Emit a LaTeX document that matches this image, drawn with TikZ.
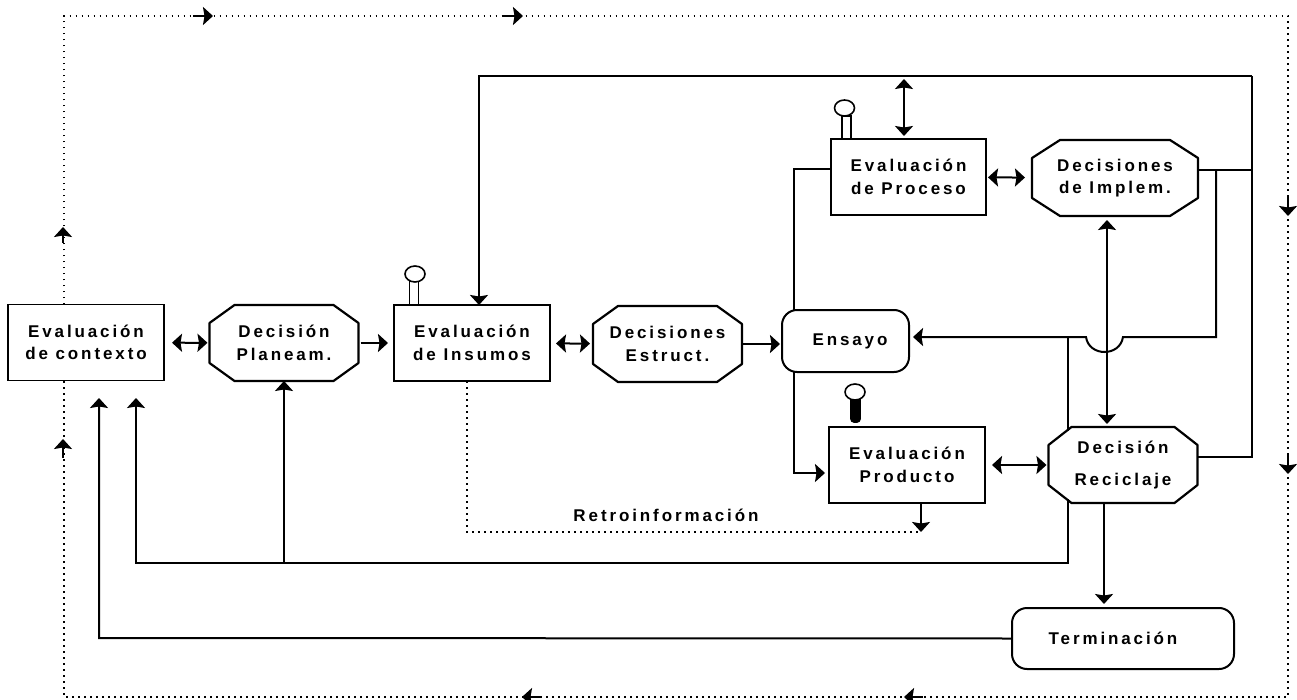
\documentclass[tikz,border=0pt]{standalone}
\usepackage{fontspec}
\setmainfont{Liberation Sans}[LetterSpace=17]
\usetikzlibrary{positioning,arrows.meta,shapes.geometric}

\begin{document}
\begin{tikzpicture}[x=1pt,y=-1pt]
            \tikzset{
                label/.style={font=\fontsize{17}{22.5}\selectfont\bfseries,align=center,inner sep=0pt,outer sep=0pt},
                evalbox/.style={label,draw,line width=1.8pt,fill=white,minimum width=156pt,minimum height=76pt},
                decbox/.style={label,minimum width=149pt,minimum height=76pt},
                octline/.style={line width=2.2pt,line join=round},
                roundbox/.style={label,draw,line width=2pt,fill=white,rounded corners=15pt},
                line/.style={line width=2pt},
                tip/.style={line width=2pt,-{Stealth[length=10pt,width=18pt,inset=1.5pt]}},
                twotip/.style={line width=2pt,{Stealth[length=10pt,width=18pt,inset=1.5pt]}-{Stealth[length=10pt,width=18pt,inset=1.5pt]}},
                flow/.style={line width=1.4pt,dash pattern=on 1.6pt off 4.4pt},
                pinhead/.style={draw,line width=1.6pt,fill=white,ellipse,minimum width=20pt,minimum height=16pt,inner sep=0pt},
                pinstem/.style={draw,line width=1.6pt,fill=white,minimum width=9pt,minimum height=23pt,inner sep=0pt},
            }
            \def\octa#1#2{\draw [octline] ([xshift=#2]#1.north west) -- ([xshift=-#2]#1.north east) -- ([yshift=-18pt]#1.north east) -- ([yshift=18pt]#1.south east) -- ([xshift=-#2]#1.south east) -- ([xshift=#2]#1.south west) -- ([yshift=18pt]#1.south west) -- ([yshift=-18pt]#1.north west) -- cycle;}
            \useasboundingbox (0,0) rectangle (1297,700);
            % boxes
            \node [evalbox] (contexto) at (86,342.5) {Evaluación\\de contexto};
            \node [decbox] (planeam) at (284,343) {Decisión\\Planeam.};
            \octa{planeam}{25pt}
            \node [evalbox] (insumos) at (472,343) {Evaluación\\de Insumos};
            \node [decbox] (estruct) at (667.5,344) {Decisiones\\Estruct.};
            \octa{estruct}{25pt}
            \node [roundbox,minimum width=127pt,minimum height=62pt] (ensayo) at (845.5,341) {\hspace{9pt}Ensayo};
            \node [evalbox,minimum width=155pt] (proceso) at (908.5,177) {Evaluación\\de Proceso};
            \node [decbox,minimum width=166pt] (implem) at (1115,178) {Decisiones\\de Implem.};
            \octa{implem}{28pt}
            \node [evalbox,minimum width=156pt] (producto) at (907,465) {Evaluación\\Producto};
            \node [decbox] (reciclaje) at (1123,465) {Decisión\\[9pt]Reciclaje};
            \octa{reciclaje}{23pt}
            \node [roundbox,minimum width=222pt,minimum height=61pt] (termina) at (1123,638.5) {Terminación\hspace{20pt}};
            \node [label] (retro) at (666,515) {Retroinformación};
            % pins
            \node [pinstem] (stemins) at (414,293) {};
            \node [pinhead] (headins) at (415,274) {};
            \node [pinstem] (stempro) at (846.5,127.5) {};
            \node [pinhead] (headpro) at (844.5,108) {};
            \node [draw,line width=1.6pt,fill=black,rounded corners=3pt,minimum width=9pt,minimum height=26pt,inner sep=0pt] (stemprd) at (855.5,409) {};
            \node [pinhead] (headprd) at (855,392) {};
            % corners of the lines
            \coordinate (topl) at (479,76);
            \coordinate (topr) at (1252,76);
            \coordinate (rightb) at (1252,457);
            \coordinate (impr) at (1252,170);
            \coordinate (impb) at (1216,170);
            \coordinate (impc) at (1216,337);
            \coordinate (dipr) at (1123,337);
            \coordinate (dipl) at (1086,337);
            \coordinate (backj) at (1068,337);
            \coordinate (backn) at (1068,431);
            \coordinate (backs) at (1068,499);
            \coordinate (backb) at (1068,563);
            \coordinate (backl) at (136,563);
            \coordinate (backt) at (136,398);
            \coordinate (planj) at (284,563);
            \coordinate (terml) at (99,638);
            \coordinate (termt) at (99,398);
            \coordinate (procl) at (794,169);
            \coordinate (prodl) at (794,473);
            \coordinate (imid) at (1107,220);
            \coordinate (imidb) at (1107,424);
            \coordinate (prodf) at (921,532);
            \coordinate (insf) at (467,532);
            \coordinate (uptop) at (904,79);
            \coordinate (upbot) at (904,136);
            \coordinate (recb) at (1104,503);
            \coordinate (termt2) at (1104,604);
            \coordinate (tl) at (64,16);
            \coordinate (tr) at (1288,16);
            \coordinate (br) at (1288,697);
            \coordinate (bl) at (64,697);
            % dotted loop
            \draw [flow] (contexto.north -| tl) -- (tl) -- (tr) -- (br) -- (bl) -- (contexto.south -| tl);
            \draw [flow] (insumos.south -| insf) -- (insf) -- (prodf);
            % small arrows on the dotted loop
            \draw [tip] (193,16) -- (213,16);
            \draw [tip] (503,16) -- (523,16);
            \draw [tip] (1288,197) -- (1288,216);
            \draw [tip] (1288,455) -- (1288,474);
            \draw [tip] (923,697) -- (904,697);
            \draw [tip] (541,697) -- (522,697);
            \draw [tip] (63,458) -- (63,439);
            \draw [tip] (63,243) -- (63,227);
            % solid lines
            \draw [twotip,shorten <=8pt,shorten >=2pt] (contexto) -- (planeam);
            \draw [tip,shorten <=2pt,shorten >=6pt] (planeam) -- (insumos);
            \draw [twotip,shorten <=6pt,shorten >=3pt] (insumos) -- (estruct);
            \draw [tip,shorten >=2pt] (estruct.east) -- (ensayo.west |- estruct.east);
            \draw [twotip,shorten <=2pt,shorten >=7pt] (proceso) -- (implem);
            \draw [twotip,shorten <=7pt,shorten >=2pt] (producto) -- (reciclaje);
            \draw [twotip] (uptop) -- (upbot);
            \draw [twotip] (imid) -- (imidb);
            \draw [tip,line width=2.4pt] (topr) -- (topl) -- (insumos.north -| topl);
            \draw [line] (topr) -- (rightb) -- (reciclaje.east |- rightb);
            \draw [line] (implem.east |- impr) -- (impr);
            \draw [tip,shorten >=4pt] (impb) -- (impc) -- (dipr) .. controls (1120,357) and (1089,357) .. (dipl) -- (backj) -- (ensayo.east |- backj);
            \draw [line] (backj) -- (backn);
            \draw [tip] (backs) -- (backb) -- (backl) -- (backt);
            \draw [tip] (planj) -- (planeam.south);
            \draw [tip] (termina.west) -- (terml) -- (termt);
            \draw [tip] (recb) -- (termt2);
            \draw [line] (proceso.west |- procl) -- (procl) -- (ensayo.north -| procl);
            \draw [tip,shorten >=4pt] (ensayo.south -| prodl) -- (prodl) -- (producto.west |- prodl);
            \draw [tip] (producto.south -| prodf) -- (prodf);
        \end{tikzpicture}
\end{document}
